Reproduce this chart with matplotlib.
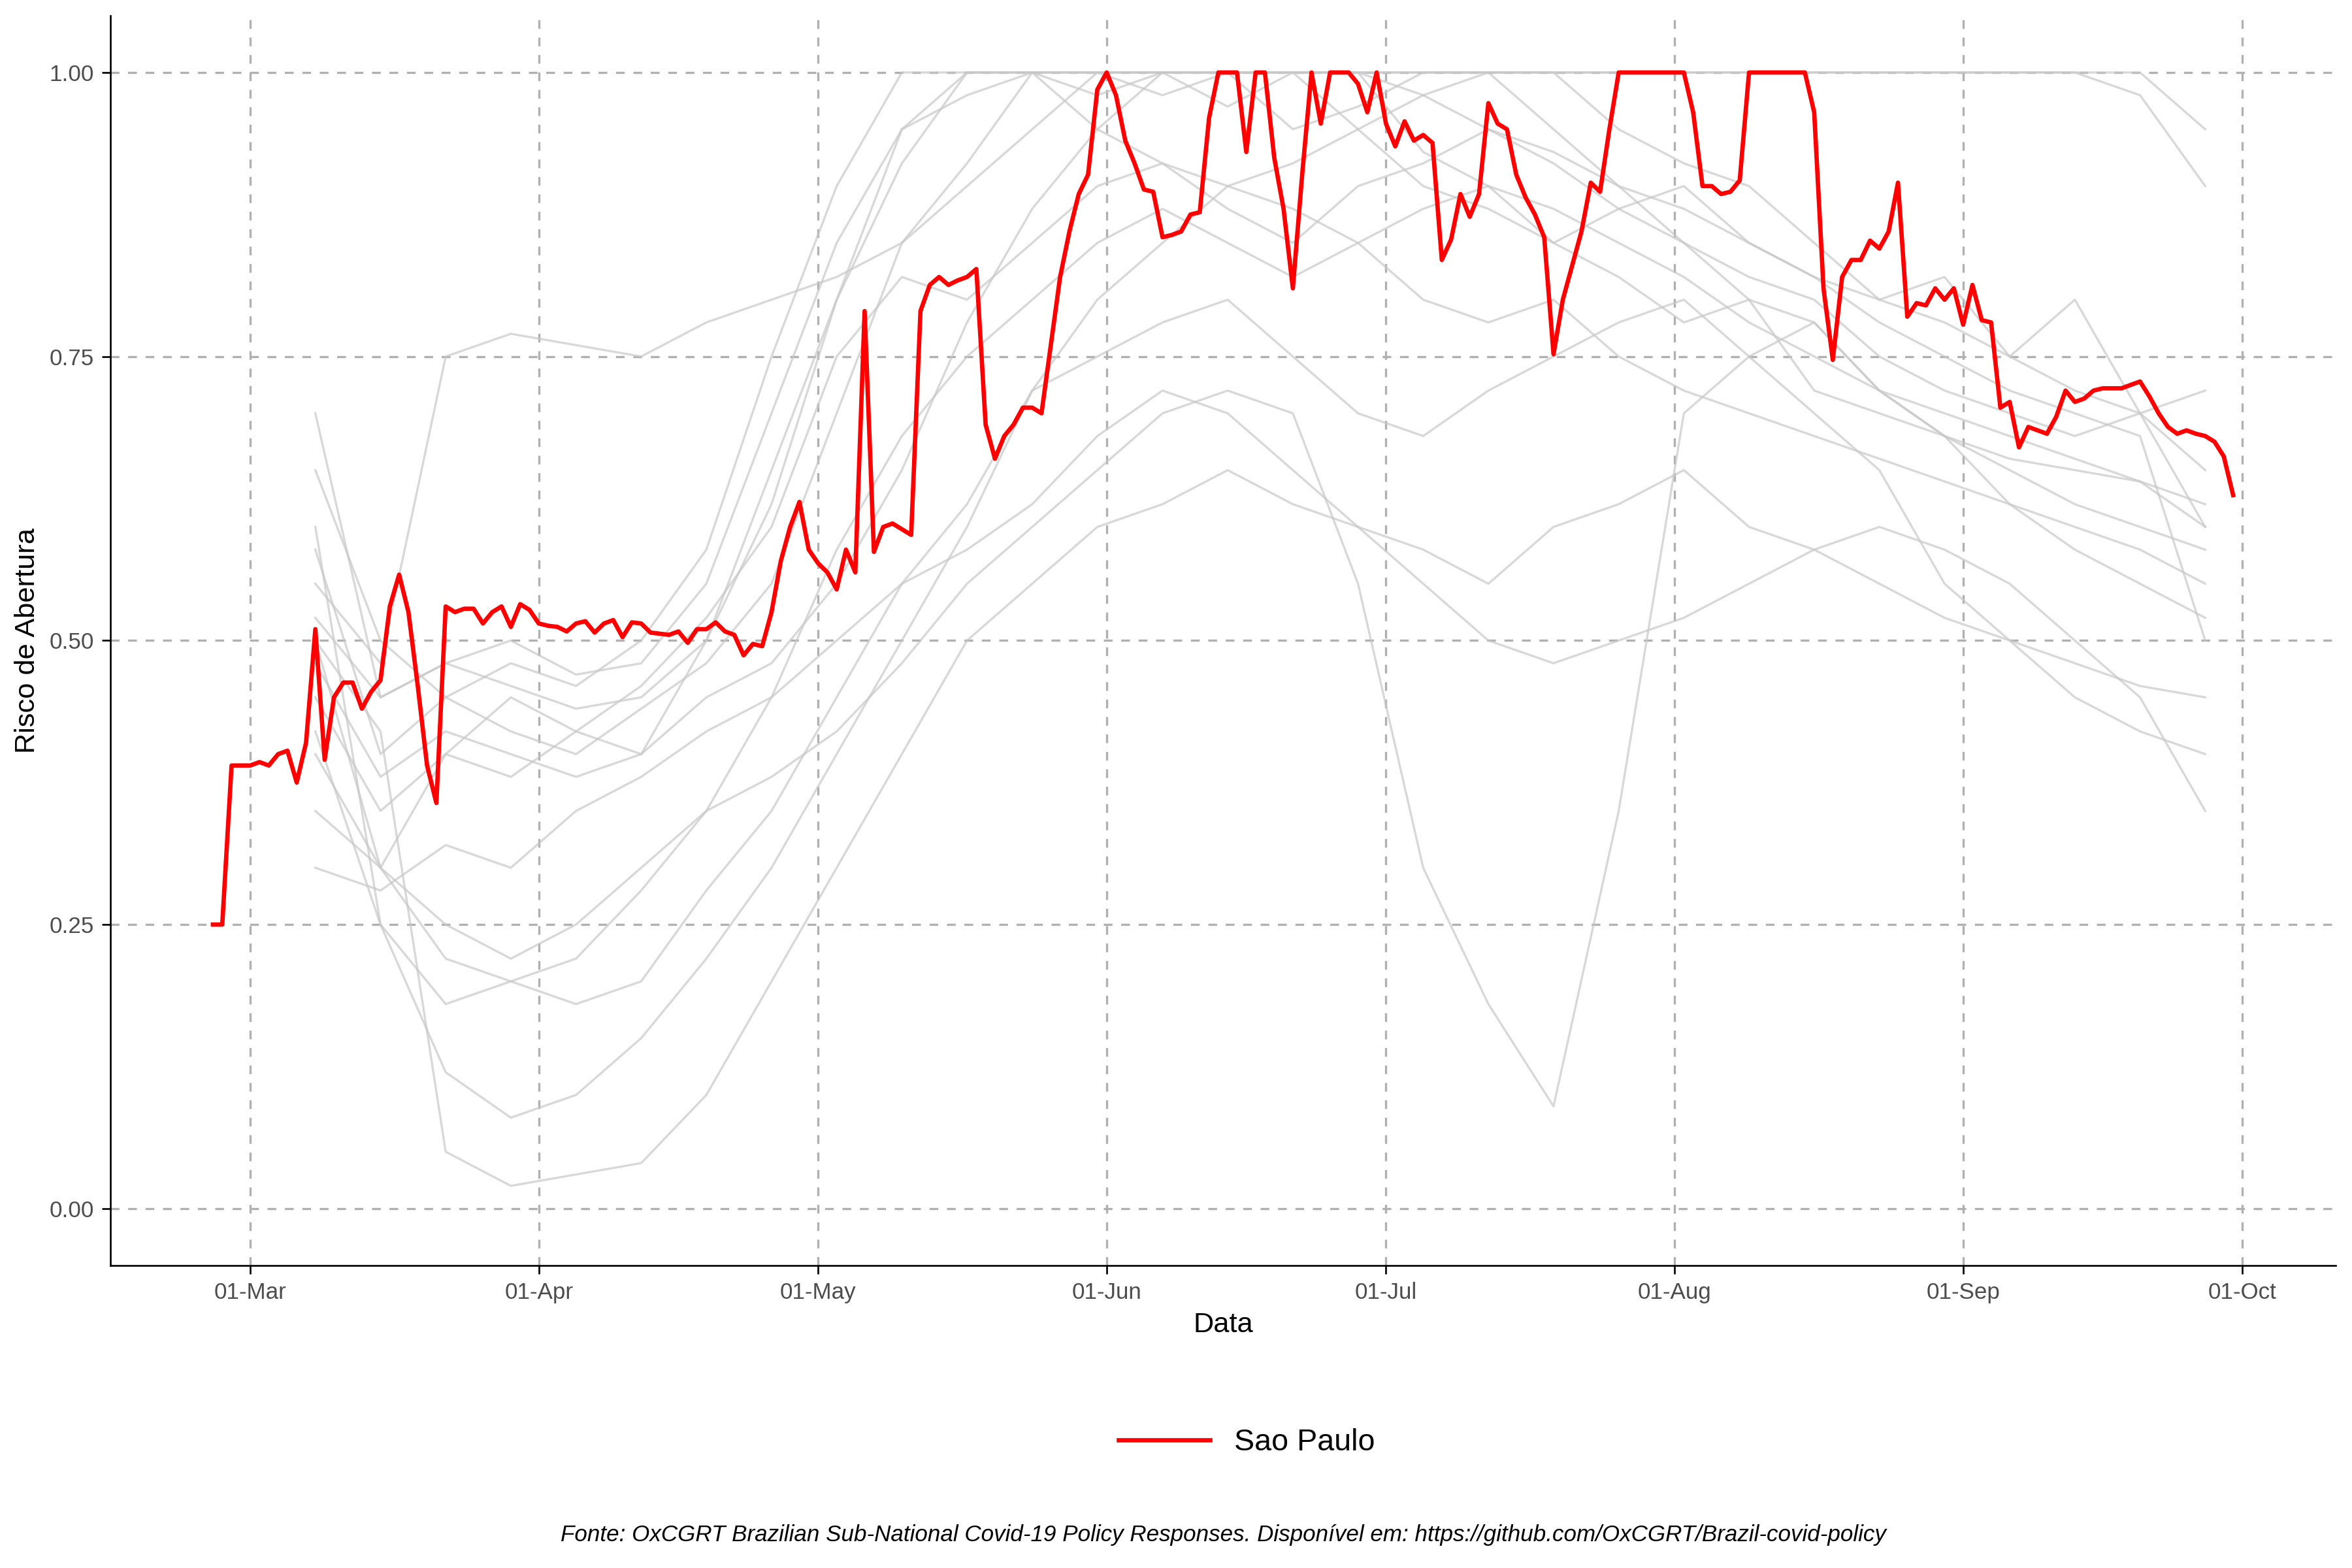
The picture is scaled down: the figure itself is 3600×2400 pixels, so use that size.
import matplotlib
matplotlib.use("Agg")
import matplotlib.pyplot as plt
import matplotlib.dates as mdates
import numpy as np
import pandas as pd

plt.rcParams['font.family'] = ['Liberation Sans', 'DejaVu Sans']

# Sao Paulo daily values, 2020-02-26 .. 2020-09-30
sp_start = "2020-02-26"
sp_values = [0.25, 0.25, 0.39, 0.39, 0.39, 0.393, 0.39, 0.40, 0.403, 0.375, 0.41, 0.51, 0.395,
             0.45, 0.463, 0.463, 0.44, 0.455, 0.465, 0.53, 0.558, 0.525, 0.46, 0.39, 0.357,
             0.53, 0.525, 0.528, 0.528, 0.515, 0.525, 0.53, 0.512, 0.532, 0.527,
             0.515, 0.513, 0.512, 0.508, 0.515, 0.517, 0.507, 0.515, 0.518, 0.503, 0.516,
             0.515, 0.507, 0.506, 0.505, 0.508, 0.498, 0.51, 0.51, 0.516, 0.508, 0.505,
             0.487, 0.497, 0.495, 0.525, 0.57, 0.60, 0.622, 0.58, 0.568, 0.56, 0.545,
             0.58, 0.56, 0.79, 0.578, 0.60, 0.603, 0.598, 0.593, 0.79, 0.813, 0.82, 0.813,
             0.817, 0.82, 0.827, 0.69, 0.66, 0.68, 0.69, 0.705, 0.705, 0.70, 0.76, 0.82,
             0.86, 0.893, 0.91, 0.985, 1.0, 0.98, 0.94, 0.92, 0.897, 0.895, 0.855, 0.857,
             0.86, 0.875, 0.877, 0.96, 1.0, 1.0, 1.0, 0.93, 1.0, 1.0, 0.925, 0.88, 0.81,
             0.91, 1.0, 0.955, 1.0, 1.0, 1.0, 0.99, 0.965, 1.0, 0.955, 0.935, 0.957, 0.94,
             0.945, 0.938, 0.835, 0.853, 0.893, 0.873, 0.893, 0.973, 0.955, 0.95, 0.91,
             0.89, 0.875, 0.855, 0.752, 0.80, 0.83, 0.86, 0.903, 0.895, 0.95, 1.0, 1.0,
             1.0, 1.0, 1.0, 1.0, 1.0, 1.0, 0.965, 0.90, 0.90, 0.893, 0.895, 0.905, 1.0,
             1.0, 1.0, 1.0, 1.0, 1.0, 1.0, 0.965, 0.81, 0.747, 0.82, 0.835, 0.835, 0.852,
             0.845, 0.86, 0.903, 0.785, 0.797, 0.795, 0.81, 0.80, 0.81, 0.778, 0.813,
             0.782, 0.78, 0.705, 0.71, 0.67, 0.688, 0.685, 0.682, 0.697, 0.72, 0.71,
             0.713, 0.72, 0.722, 0.722, 0.722, 0.725, 0.728, 0.715, 0.70, 0.688, 0.682,
             0.685, 0.682, 0.68, 0.675, 0.662, 0.628]

# Other states, weekly readings from 2020-03-08 to 2020-09-27 (approximate)
gr_start = "2020-03-08"
other_states = [
    [0.70, 0.45, 0.48, 0.46, 0.44, 0.45, 0.50, 0.62, 0.80, 0.95, 1.0, 1.0, 0.98, 1.0, 1.0, 0.95, 0.97, 1.0, 1.0, 1.0, 0.95, 0.92, 0.90, 0.85, 0.80, 0.82, 0.75, 0.80, 0.70, 0.60],
    [0.58, 0.40, 0.45, 0.42, 0.40, 0.44, 0.48, 0.55, 0.70, 0.85, 0.92, 1.0, 1.0, 1.0, 0.97, 1.0, 1.0, 0.93, 0.90, 0.85, 0.82, 0.78, 0.80, 0.72, 0.70, 0.68, 0.66, 0.65, 0.64, 0.62],
    [0.50, 0.30, 0.22, 0.20, 0.18, 0.20, 0.28, 0.35, 0.45, 0.55, 0.62, 0.72, 0.80, 0.85, 0.90, 0.88, 0.85, 0.80, 0.78, 0.80, 0.75, 0.72, 0.70, 0.68, 0.66, 0.64, 0.62, 0.60, 0.58, 0.55],
    [0.45, 0.35, 0.40, 0.38, 0.42, 0.40, 0.45, 0.48, 0.55, 0.65, 0.78, 0.88, 0.95, 1.0, 1.0, 1.0, 1.0, 1.0, 1.0, 1.0, 1.0, 1.0, 1.0, 1.0, 1.0, 1.0, 1.0, 1.0, 1.0, 0.95],
    [0.60, 0.25, 0.12, 0.08, 0.10, 0.15, 0.22, 0.30, 0.40, 0.50, 0.60, 0.72, 0.75, 0.78, 0.80, 0.75, 0.70, 0.68, 0.72, 0.75, 0.78, 0.80, 0.75, 0.70, 0.65, 0.55, 0.50, 0.45, 0.42, 0.40],
    [0.35, 0.30, 0.40, 0.45, 0.42, 0.46, 0.52, 0.60, 0.75, 0.82, 0.80, 0.85, 0.90, 0.92, 0.88, 0.85, 0.90, 0.92, 0.95, 0.93, 0.90, 0.85, 0.82, 0.80, 0.75, 0.72, 0.70, 0.68, 0.70, 0.72],
    [0.40, 0.30, 0.25, 0.22, 0.25, 0.30, 0.35, 0.38, 0.42, 0.48, 0.55, 0.60, 0.65, 0.70, 0.72, 0.70, 0.55, 0.30, 0.18, 0.09, 0.35, 0.70, 0.75, 0.78, 0.72, 0.68, 0.65, 0.62, 0.60, 0.58],
    [0.55, 0.48, 0.75, 0.77, 0.76, 0.75, 0.78, 0.80, 0.82, 0.85, 0.90, 0.95, 1.0, 1.0, 1.0, 1.0, 0.95, 0.90, 0.88, 0.85, 0.88, 0.90, 0.85, 0.82, 0.80, 0.78, 0.75, 0.72, 0.70, 0.65],
    [0.50, 0.42, 0.05, 0.02, 0.03, 0.04, 0.10, 0.20, 0.30, 0.40, 0.50, 0.55, 0.60, 0.62, 0.65, 0.62, 0.60, 0.58, 0.55, 0.60, 0.62, 0.65, 0.60, 0.58, 0.55, 0.52, 0.50, 0.48, 0.46, 0.45],
    [0.65, 0.50, 0.45, 0.48, 0.46, 0.50, 0.58, 0.75, 0.90, 1.0, 1.0, 1.0, 1.0, 1.0, 1.0, 1.0, 1.0, 1.0, 1.0, 1.0, 1.0, 1.0, 1.0, 1.0, 1.0, 1.0, 1.0, 1.0, 0.98, 0.90],
    [0.30, 0.28, 0.32, 0.30, 0.35, 0.38, 0.42, 0.45, 0.50, 0.55, 0.58, 0.62, 0.68, 0.72, 0.70, 0.65, 0.60, 0.55, 0.50, 0.48, 0.50, 0.52, 0.55, 0.58, 0.60, 0.58, 0.55, 0.50, 0.45, 0.35],
    [0.52, 0.45, 0.48, 0.50, 0.47, 0.48, 0.55, 0.70, 0.85, 0.95, 0.98, 1.0, 0.95, 0.92, 0.90, 0.92, 0.95, 0.98, 1.0, 0.95, 0.90, 0.88, 0.85, 0.82, 0.78, 0.75, 0.72, 0.70, 0.68, 0.50],
    [0.42, 0.25, 0.18, 0.20, 0.22, 0.28, 0.35, 0.45, 0.58, 0.68, 0.75, 0.80, 0.85, 0.88, 0.85, 0.82, 0.85, 0.88, 0.90, 0.88, 0.85, 0.82, 0.78, 0.75, 0.72, 0.70, 0.68, 0.66, 0.64, 0.60],
    [0.48, 0.38, 0.42, 0.40, 0.38, 0.40, 0.50, 0.65, 0.80, 0.92, 1.0, 1.0, 1.0, 0.98, 1.0, 1.0, 1.0, 0.98, 0.95, 0.92, 0.88, 0.85, 0.80, 0.78, 0.72, 0.68, 0.62, 0.58, 0.55, 0.52],
]

fig = plt.figure(figsize=(15, 10), dpi=240)
ax = fig.add_axes([0.047, 0.193, 0.946, 0.797])

gr_dates = pd.date_range(gr_start, periods=len(other_states[0]), freq="7D")
for s in other_states:
    ax.plot(gr_dates, s, color="#c8c8c8", lw=1.0, alpha=0.7, zorder=1)

sp_dates = pd.date_range(sp_start, periods=len(sp_values), freq="D")
ax.plot(sp_dates, sp_values, color="red", lw=2.0, zorder=3, label="Sao Paulo")

ax.set_xlim(pd.Timestamp("2020-02-15"), pd.Timestamp("2020-10-11"))
ax.set_ylim(-0.05, 1.05)
ax.set_yticks([0, 0.25, 0.5, 0.75, 1.0])
ax.set_yticklabels(["0.00", "0.25", "0.50", "0.75", "1.00"])
ax.xaxis.set_major_locator(mdates.MonthLocator(bymonth=range(3, 11)))
ax.xaxis.set_major_formatter(mdates.DateFormatter("%d-%b"))
ax.grid(True, color="#b0b0b0", ls=(0, (4, 4)), lw=1.0)
ax.set_axisbelow(True)
for sp in ["top", "right"]:
    ax.spines[sp].set_visible(False)
for sp in ["left", "bottom"]:
    ax.spines[sp].set_color("black")
ax.tick_params(colors="#4d4d4d", labelsize=10.5, length=4)
ax.tick_params(axis="both", color="black")
ax.set_xlabel("Data", fontsize=13)
ax.set_ylabel("Risco de Abertura", fontsize=13)

fig.legend(*ax.get_legend_handles_labels(), loc="center", bbox_to_anchor=(0.53, 0.08),
           frameon=False, fontsize=14, handlelength=3)
fig.text(0.52, 0.017, "Fonte: OxCGRT Brazilian Sub-National Covid-19 Policy Responses. Disponível em: https://github.com/OxCGRT/Brazil-covid-policy",
         ha="center", fontsize=10.5, style="italic")
fig.savefig("out.png", dpi=240, facecolor="white")
